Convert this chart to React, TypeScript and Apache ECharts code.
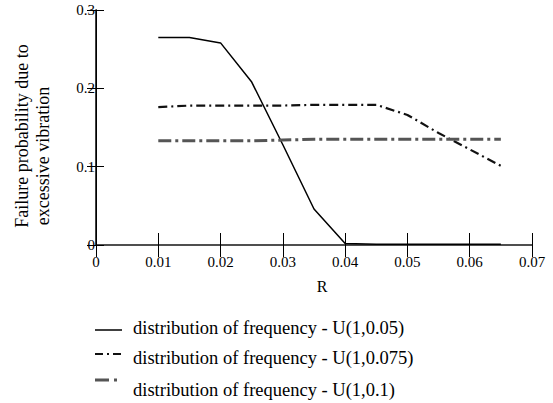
import React, { useEffect, useRef } from "react";
import * as echarts from "echarts";

const rValues = [0.01, 0.015, 0.02, 0.025, 0.03, 0.035, 0.04, 0.045, 0.05, 0.055, 0.06, 0.065];
const seriesU005 = [0.265, 0.265, 0.258, 0.208, 0.128, 0.046, 0.002, 0.001, 0.001, 0.001, 0.001, 0.001];
const seriesU0075 = [0.176, 0.178, 0.178, 0.178, 0.178, 0.179, 0.179, 0.179, 0.166, 0.143, 0.122, 0.101];
const seriesU01 = [0.133, 0.133, 0.133, 0.133, 0.134, 0.135, 0.135, 0.135, 0.135, 0.135, 0.135, 0.135];
const seriesNames = [
  "distribution of frequency - U(1,0.05)",
  "distribution of frequency - U(1,0.075)",
  "distribution of frequency - U(1,0.1)",
];
const xTitle = "R";
const yTitleLines = ["Failure probability due to", "excessive vibration"];

const FONT = "Liberation Serif";

const lineStyles = [
  { color: "#000", width: 1.5, dash: null as number[] | null },
  { color: "#111", width: 2.2, dash: [9, 4, 2, 4] },
  { color: "#555", width: 3, dash: [13, 4, 3, 4] },
];

export default function App() {
  const ref = useRef<HTMLDivElement>(null);
  useEffect(() => {
    if (!ref.current) return;
    const chart = echarts.init(ref.current, null, { renderer: "svg" });
    const pair = (ys: number[]) => rValues.map((x, i) => [x, ys[i]]);
    const seriesData = [seriesU005, seriesU0075, seriesU01];

    const iconY = [330, 354, 380];
    const textY = [328, 358, 390];
    const legendIcons: any[] = [
      { type: "line", shape: { x1: 95, y1: iconY[0], x2: 122, y2: iconY[0] }, style: { stroke: "#000", lineWidth: 1.5 } },
      { type: "line", shape: { x1: 95, y1: iconY[1], x2: 122, y2: iconY[1] }, style: { stroke: "#111", lineWidth: 2.2, lineDash: [8, 4, 2, 4] } },
      { type: "line", shape: { x1: 95, y1: iconY[2], x2: 118, y2: iconY[2] }, style: { stroke: "#555", lineWidth: 3, lineDash: [14, 5, 3, 10] } },
    ];
    const legendTexts = seriesNames.map((name, i) => ({
      type: "text",
      x: 133,
      y: textY[i],
      style: {
        text: name,
        fontFamily: FONT,
        fontSize: 18.5,
        fill: "#000",
        align: "left",
        verticalAlign: "middle",
      },
    }));
    const yTitleX = [22, 43];
    const yTitleY = [136, 156];
    const yTitles = yTitleLines.map((t, i) => ({
      type: "text",
      x: yTitleX[i],
      y: yTitleY[i],
      rotation: Math.PI / 2,
      style: {
        text: t,
        fontFamily: FONT,
        fontSize: 18,
        fill: "#000",
        align: "center",
        verticalAlign: "middle",
      },
    }));

    chart.setOption({
      animation: false,
      backgroundColor: "#ffffff",
      textStyle: { fontFamily: FONT },
      grid: { left: 96, right: 21, top: 10, bottom: 158 },
      xAxis: [
        {
          type: "value",
          min: 0,
          max: 0.07,
          interval: 0.01,
          position: "bottom",
          name: xTitle,
          nameLocation: "middle",
          nameGap: 33,
          nameTextStyle: { fontFamily: FONT, fontSize: 16, color: "#000", padding: [0, 0, 0, 16] },
          axisLine: { show: true, lineStyle: { color: "#000", width: 1.5 } },
          axisTick: { show: true, inside: true, length: 12, lineStyle: { color: "#000" } },
          axisLabel: { fontFamily: FONT, fontSize: 15, color: "#000", margin: 9 },
          splitLine: { show: false },
        },
        {
          type: "value",
          min: 0,
          max: 0.07,
          interval: 0.01,
          position: "top",
          axisLine: { show: true, lineStyle: { color: "#555", width: 1.5 } },
          axisTick: { show: true, inside: true, length: 12, lineStyle: { color: "#000" } },
          axisLabel: { show: false },
          splitLine: { show: false },
        },
      ],
      yAxis: [
        {
          type: "value",
          min: 0,
          max: 0.3,
          interval: 0.1,
          position: "left",
          axisLine: { show: true, lineStyle: { color: "#000", width: 1 } },
          axisTick: { show: true, inside: true, length: 8, lineStyle: { color: "#000" } },
          axisLabel: { fontFamily: FONT, fontSize: 15, color: "#000", margin: 1 },
          splitLine: { show: false },
        },
        {
          type: "value",
          min: 0,
          max: 0.3,
          interval: 0.1,
          position: "right",
          axisLine: { show: true, lineStyle: { color: "#000", width: 1.5 } },
          axisTick: { show: true, inside: true, length: 9, lineStyle: { color: "#000" } },
          axisLabel: { show: false },
          splitLine: { show: false },
        },
      ],
      graphic: [...yTitles, ...legendIcons, ...legendTexts],
      series: seriesData.map((ys, i) => ({
        name: seriesNames[i],
        type: "line",
        data: pair(ys),
        symbol: "none",
        lineStyle: {
          color: lineStyles[i].color,
          width: lineStyles[i].width,
          type: lineStyles[i].dash ? lineStyles[i].dash : "solid",
        },
        itemStyle: { color: lineStyles[i].color },
      })),
    });
    return () => chart.dispose();
  }, []);
  return <div ref={ref} style={{ width: 553, height: 403, position: "fixed", left: 0, top: 0 }} />;
}
